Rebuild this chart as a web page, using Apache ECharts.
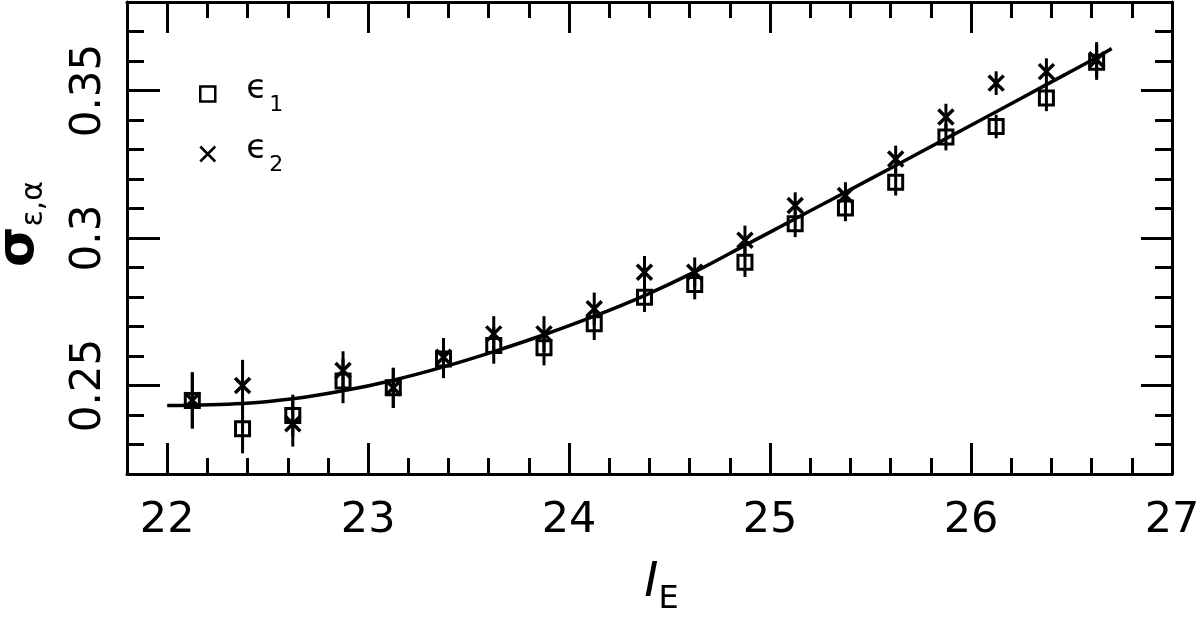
<!DOCTYPE html>
<html>
<head>
<meta charset="utf-8">
<script src="https://cdn.jsdelivr.net/npm/echarts@6/dist/echarts.min.js"></script>
<style>
  html, body { margin: 0; padding: 0; background: #fff; }
  #main { width: 1200px; height: 623px; }
</style>
</head>
<body>
<div id="main"></div>
<script>
// magnitude bins
var magBins = [22.125, 22.375, 22.625, 22.875, 23.125, 23.375, 23.625, 23.875, 24.125, 24.375,
               24.625, 24.875, 25.125, 25.375, 25.625, 25.875, 26.125, 26.375, 26.625];
// sigma for e1 (squares) and e2 (crosses)
var sigE1 = [0.2449, 0.2353, 0.2398, 0.2515, 0.2492, 0.2590, 0.2636, 0.2628, 0.2709, 0.2799,
             0.2842, 0.2918, 0.3048, 0.3102, 0.3189, 0.3342, 0.3378, 0.3475, 0.3596];
var sigE2 = [0.2450, 0.2500, 0.2370, 0.2551, 0.2492, 0.2596, 0.2675, 0.2675, 0.2760, 0.2884,
             0.2884, 0.2992, 0.3110, 0.3144, 0.3268, 0.3410, 0.3525, 0.3564, 0.3604];
var errE1 = [0.0095, 0.0083, 0.0071, 0.0075, 0.0068, 0.0065, 0.0062, 0.0060, 0.0055, 0.0050,
             0.0050, 0.0050, 0.0045, 0.0045, 0.0045, 0.0045, 0.0040, 0.0045, 0.0060];
var errE2 = [0.0095, 0.0087, 0.0077, 0.0065, 0.0068, 0.0065, 0.0060, 0.0060, 0.0055, 0.0055,
             0.0050, 0.0050, 0.0045, 0.0045, 0.0045, 0.0045, 0.0040, 0.0045, 0.0060];
// fitted curve
var fitX = [22.0, 22.375, 22.625, 22.875, 23.125, 23.375, 23.625, 23.875, 24.125, 24.375,
            24.625, 24.875, 25.125, 25.375, 25.625, 25.875, 26.125, 26.375, 26.625, 26.7];
var fitY = [0.2432, 0.2439, 0.2455, 0.2482, 0.2518, 0.2563, 0.2615, 0.2672, 0.2735, 0.2805,
            0.2885, 0.2975, 0.3065, 0.3155, 0.3246, 0.3337, 0.3428, 0.3520, 0.3612, 0.3642];
// ticks
var xTicks = [22, 23, 24, 25, 26, 27];
var xMinor = [22.2, 22.4, 22.6, 22.8, 23.2, 23.4, 23.6, 23.8, 24.2, 24.4, 24.6, 24.8,
              25.2, 25.4, 25.6, 25.8, 26.2, 26.4, 26.6, 26.8];
var yTicks = [0.25, 0.3, 0.35];
var yMinor = [0.23, 0.24, 0.26, 0.27, 0.28, 0.29, 0.31, 0.32, 0.33, 0.34, 0.36, 0.37];

var FONT = '"DejaVu Sans", "Liberation Sans", sans-serif';

function pts(xs, ys) { return xs.map(function (x, i) { return [x, ys[i]]; }); }
function bars(xs, ys, es) { return xs.map(function (x, i) { return [x, ys[i] - es[i], ys[i] + es[i]]; }); }

function xAx(pos, ticks, len, main) {
    return {
        type: 'value', min: 21.8, max: 27, position: pos,
        axisLine: { show: main, lineStyle: { color: '#000', width: 3 } },
        axisTick: { show: true, inside: true, length: len, customValues: ticks,
                    lineStyle: { color: '#000', width: 3 } },
        axisLabel: { show: false },
        splitLine: { show: false }
    };
}
function yAx(pos, ticks, len, main) {
    return {
        type: 'value', min: 0.22, max: 0.38, position: pos,
        axisLine: { show: main, lineStyle: { color: '#000', width: 3 } },
        axisTick: { show: true, inside: true, length: len, customValues: ticks,
                    lineStyle: { color: '#000', width: 3 } },
        axisLabel: { show: false },
        splitLine: { show: false }
    };
}

var xAxes = [xAx('bottom', xTicks, 31, true), xAx('bottom', xMinor, 16, false),
             xAx('top', xTicks, 31, true), xAx('top', xMinor, 16, false)];
xAxes[0].axisLabel = { show: true, customValues: xTicks, margin: 25, color: '#000',
                       fontSize: 43, fontFamily: FONT };
xAxes[0].name = '{a|I}{b|E}';
xAxes[0].nameLocation = 'middle';
xAxes[0].nameGap = 86;
xAxes[0].nameTextStyle = {
    rich: {
        a: { fontSize: 48, fontStyle: 'italic', fontFamily: FONT, color: '#000', lineHeight: 44, verticalAlign: 'top', padding: [0, 0, 0, 24] },
        b: { fontSize: 32, fontFamily: FONT, color: '#000', lineHeight: 56, verticalAlign: 'bottom' }
    }
};

var yAxes = [yAx('left', yTicks, 33, true), yAx('left', yMinor, 17, false),
             yAx('right', yTicks, 31, true), yAx('right', yMinor, 17, false)];
yAxes[0].axisLabel = { show: true, customValues: yTicks, margin: 17, rotate: 90, color: '#000',
                       fontSize: 42, fontFamily: FONT };
yAxes[0].name = '{a|σ}{b|ε,α}';
yAxes[0].nameLocation = 'middle';
yAxes[0].nameRotate = 90;
yAxes[0].nameGap = 78;
yAxes[0].nameTextStyle = {
    rich: {
        a: { fontSize: 52, fontWeight: 'bold', fontFamily: FONT, color: '#000', lineHeight: 40, verticalAlign: 'top', padding: [0, 0, 0, 28] },
        b: { fontSize: 30, fontFamily: FONT, color: '#000', lineHeight: 56, verticalAlign: 'bottom' }
    }
};

var CROSS = 'path://M0,0L10,10M10,0L0,10';

function errorBars(data) {
    return {
        type: 'custom', xAxisIndex: 0, yAxisIndex: 0, silent: true, z: 3,
        data: data,
        encode: { x: 0, y: [1, 2] },
        renderItem: function (params, api) {
            var p1 = api.coord([api.value(0), api.value(1)]);
            var p2 = api.coord([api.value(0), api.value(2)]);
            return { type: 'line', shape: { x1: p1[0], y1: p1[1], x2: p2[0], y2: p2[1] },
                     style: { stroke: '#000', lineWidth: 3 } };
        }
    };
}

var chart = echarts.init(document.getElementById('main'));
chart.setOption({
    animation: false,
    backgroundColor: '#fff',
    grid: { left: 127, right: 28, top: 2, bottom: 149, outerBoundsMode: 'none', containLabel: false },
    xAxis: xAxes,
    yAxis: yAxes,
    legend: {
        orient: 'vertical', left: 194, top: 67, itemGap: 16,
        itemWidth: 15, itemHeight: 15,
        data: [
            { name: 'ϵ_1', icon: 'rect', itemStyle: { color: 'rgba(0,0,0,0)', borderColor: '#000', borderWidth: 2.5, opacity: 1 } },
            { name: 'ϵ_2', icon: CROSS, itemStyle: { color: 'rgba(0,0,0,0)', borderColor: '#000', borderWidth: 2.5, opacity: 1 } }
        ],
        formatter: function (n) { var p = n.split('_'); return '{e|' + p[0] + '}{s|' + p[1] + '}'; },
        textStyle: {
            rich: {
                e: { fontSize: 34, fontFamily: FONT, color: '#000', lineHeight: 36, verticalAlign: 'top', padding: [0, 2, 0, 26] },
                s: { fontSize: 22, fontFamily: FONT, color: '#000', lineHeight: 44, verticalAlign: 'bottom' }
            }
        }
    },
    series: [
        {
            type: 'line', name: 'fit', data: pts(fitX, fitY), smooth: 0.35,
            showSymbol: false, silent: true, z: 2,
            lineStyle: { color: '#000', width: 3.5 }
        },
        errorBars(bars(magBins, sigE1, errE1)),
        errorBars(bars(magBins, sigE2, errE2)),
        {
            type: 'scatter', name: 'ϵ_1', data: pts(magBins, sigE1), symbol: 'rect', symbolSize: 14, z: 4,
            itemStyle: { color: 'rgba(0,0,0,0)', borderColor: '#000', borderWidth: 3, opacity: 1 }
        },
        {
            type: 'scatter', name: 'ϵ_2', data: pts(magBins, sigE2), symbol: CROSS, symbolSize: 15, z: 4,
            itemStyle: { color: 'rgba(0,0,0,0)', borderColor: '#000', borderWidth: 3.5, opacity: 1 }
        }
    ]
});
</script>
</body>
</html>
